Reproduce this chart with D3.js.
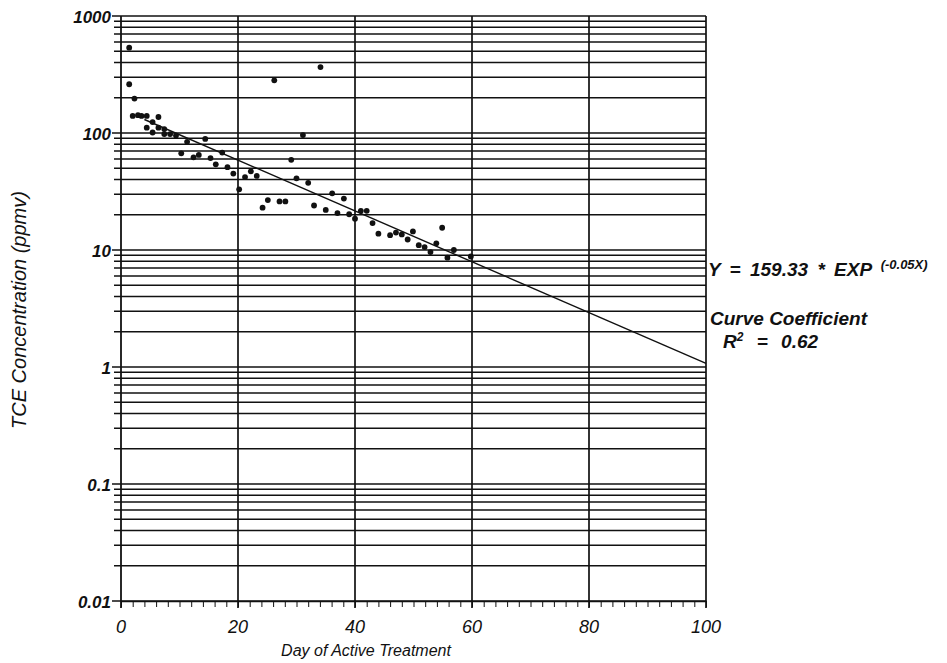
<!DOCTYPE html>
<html>
<head>
<meta charset="utf-8">
<script src="https://cdn.jsdelivr.net/npm/d3@7"></script>
<style>
  body { margin: 0; background: #fff; }
  text { font-family: "Liberation Sans", Arial, sans-serif; font-style: italic; fill: #111; }
</style>
</head>
<body>
<div id="container"></div>
<script>
// day of active treatment (x) and TCE concentration in ppmv (y)
var days = [1.4, 1.4, 2.3, 2.0, 2.9, 3.5, 4.4, 5.4, 6.4, 4.4, 5.4, 6.4, 7.4, 7.4, 8.4, 9.4,
  11.3, 10.3, 12.4, 13.3, 14.4, 15.3, 16.2, 17.3, 18.2, 19.2, 20.2, 21.2, 22.2, 23.2,
  24.2, 25.1, 26.2, 27.1, 28.1, 29.1, 30.0, 31.1, 32.0, 33.0, 34.1, 35.0, 36.1, 37.0,
  38.1, 39.0, 40.0, 41.0, 42.0, 43.0, 44.0, 46.0, 47.0, 48.0, 49.0, 49.9, 50.9, 51.9,
  52.9, 53.9, 54.9, 55.8, 56.9, 59.8];
var tce = [536, 261, 197, 140, 142, 140, 140, 124, 137, 111, 101, 111, 108, 98, 98, 95,
  84, 67, 62, 65, 89, 61, 54, 68, 51, 45, 33, 42, 47, 43,
  23, 26.7, 282, 26, 26, 59, 41, 96, 37.5, 24, 366, 22, 30.5, 20.7,
  27.5, 20.2, 18.5, 21.6, 21.6, 17, 13.8, 13.4, 14.1, 13.6, 12.3, 14.4, 11, 10.6,
  9.6, 11.4, 15.5, 8.6, 10, 8.8];

var xTicks = [0, 20, 40, 60, 80, 100];
var yTicks = [0.01, 0.1, 1, 10, 100, 1000];
var yTickLabels = ["0.01", "0.1", "1", "10", "100", "1000"];

// fitted curve Y = 159.33 * EXP(-0.05X)
var fitA = 159.33, fitB = -0.05, fitStart = 4, fitEnd = 100;

var w = 947, h = 663;
var pLeft = 121, pRight = 706, pTop = 16, pBottom = 601;

var svg = d3.select("div#container")
  .append("svg")
  .attr("width", w)
  .attr("height", h);

var x = d3.scaleLinear().domain([0, 100]).range([pLeft, pRight]);
var y = d3.scaleLog().domain([0.01, 1000]).range([pBottom, pTop]);

// horizontal grid: every 1..9 of each decade
var gridVals = [];
for (var e = -2; e <= 2; e++) {
  for (var m = 1; m <= 9; m++) gridVals.push(+(m * Math.pow(10, e)).toPrecision(3));
}
gridVals.push(1000);

var grid = svg.append("g");
grid.selectAll("line.h")
  .data(gridVals)
  .enter().append("line")
  .attr("x1", function(d) { return pLeft - (yTicks.indexOf(d) >= 0 ? 9 : 7); })
  .attr("x2", pRight)
  .attr("y1", function(d) { return y(d); })
  .attr("y2", function(d) { return y(d); })
  .attr("stroke", "#111")
  .attr("stroke-width", 1.5);

// vertical grid lines at 20..100
grid.selectAll("line.v")
  .data(xTicks.slice(1))
  .enter().append("line")
  .attr("x1", function(d) { return x(d); })
  .attr("x2", function(d) { return x(d); })
  .attr("y1", pTop)
  .attr("y2", pBottom + 7)
  .attr("stroke", "#111")
  .attr("stroke-width", 1.7);

// y axis line
svg.append("line")
  .attr("x1", pLeft).attr("x2", pLeft)
  .attr("y1", pTop).attr("y2", pBottom + 7)
  .attr("stroke", "#111").attr("stroke-width", 1.8);

// x axis with minor ticks every 2 days
var xAxis = d3.axisBottom(x)
  .tickValues(d3.range(0, 101, 2))
  .tickSize(6)
  .tickSizeOuter(0)
  .tickFormat("");
var gx = svg.append("g")
  .attr("transform", "translate(0," + pBottom + ")")
  .call(xAxis);
gx.select(".domain").attr("stroke", "#111").attr("stroke-width", 1.6);
gx.selectAll(".tick line").attr("stroke", "#111").attr("stroke-width", 1);

svg.selectAll("text.xlab")
  .data(xTicks)
  .enter().append("text")
  .attr("x", function(d) { return x(d); })
  .attr("y", pBottom + 32)
  .attr("text-anchor", "middle")
  .attr("font-size", 18)
  .text(function(d) { return d; });

svg.selectAll("text.ylab")
  .data(yTicks)
  .enter().append("text")
  .attr("x", pLeft - 10)
  .attr("y", function(d) { return y(d) + 7; })
  .attr("text-anchor", "end")
  .attr("font-size", 17)
  .attr("font-weight", "bold")
  .text(function(d, i) { return yTickLabels[i]; });

// axis titles
svg.append("text")
  .attr("x", 366)
  .attr("y", 656)
  .attr("text-anchor", "middle")
  .attr("font-size", 16)
  .text("Day of Active Treatment");

svg.append("text")
  .attr("transform", "translate(26," + 310 + ") rotate(-90)")
  .attr("text-anchor", "middle")
  .attr("font-size", 20)
  .text("TCE Concentration (ppmv)");

// regression line
var fitX = [fitStart, fitEnd];
svg.append("line")
  .attr("x1", x(fitX[0])).attr("y1", y(fitA * Math.exp(fitB * fitX[0])))
  .attr("x2", x(fitX[1])).attr("y2", y(fitA * Math.exp(fitB * fitX[1])))
  .attr("stroke", "#111").attr("stroke-width", 1.4);

// data points
var pts = days.map(function(d, i) { return { x: d, y: tce[i] }; });
svg.append("g").selectAll("circle")
  .data(pts)
  .enter().append("circle")
  .attr("cx", function(d) { return x(d.x); })
  .attr("cy", function(d) { return y(d.y); })
  .attr("r", 2.9)
  .attr("fill", "#111");

// equation annotation
var eq = svg.append("text")
  .attr("x", 708)
  .attr("y", 276)
  .attr("font-size", 19)
  .attr("font-weight", "bold")
  .attr("word-spacing", 4);
eq.append("tspan").text("Y = 159.33 * EXP ");
eq.append("tspan").attr("font-size", 13).attr("dy", -7).attr("word-spacing", 0).text("(-0.05X)");

svg.append("text")
  .attr("x", 710)
  .attr("y", 325)
  .attr("font-size", 19)
  .attr("font-weight", "bold")
  .text("Curve Coefficient");

var r2 = svg.append("text")
  .attr("x", 723)
  .attr("y", 348)
  .attr("font-size", 19)
  .attr("font-weight", "bold");
r2.append("tspan").text("R");
r2.append("tspan").attr("font-size", 12).attr("dy", -7).text("2");
r2.append("tspan").attr("dy", 7).attr("word-spacing", 8).text(" = 0.62");
</script>
</body>
</html>
